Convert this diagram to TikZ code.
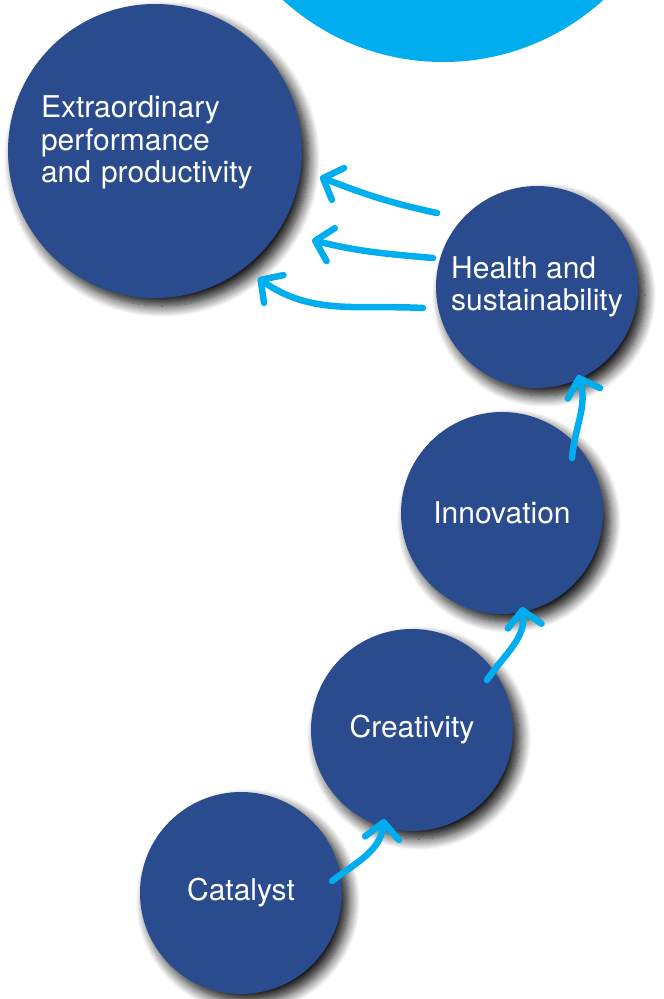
\documentclass[tikz,border=0pt]{standalone}
\usepackage{fontspec}
\setmainfont{TeX Gyre Heros}
\usetikzlibrary{calc,arrows.meta,shadows.blur}
\definecolor{stageblue}{HTML}{2A4B8D}
\definecolor{arrowblue}{HTML}{00AEEF}

\begin{document}
\begin{tikzpicture}[x=1pt, y=-1pt, font=\fontsize{30}{32.5}\selectfont,
        every node/.style={circle, fill=stageblue, text=white, inner sep=0pt, outer sep=0pt, minimum size=202pt, align=left,
            blur shadow={shadow xshift=7pt, shadow yshift=-8pt, shadow blur radius=11pt, shadow blur steps=12, shadow opacity=95}},
        flow/.style={draw=arrowblue, line width=6.5pt, line cap=round, -{Straight Barb[length=16pt, width=34pt, round]}}]
        \useasboundingbox (0,0) rectangle (664,999);
        \fill[arrowblue] (443,-176) circle[radius=238pt];

        \node (S1) at (241,893) {Catalyst};
        \node (S2) at (412,730) {Creativity};
        \node (S3) at (502,513) {Innovation};
        \node (S4) at (537,287) {Health and\\sustainability};
        \node[minimum size=294pt, text width=228pt, text depth=88pt] (S5) at (155,151) {Extraordinary\\performance\\and productivity};

        \draw[flow] ($(S1)+(91,-12)$) to[out=37, in=264] ($(S2)+(-28,89)$);
        \draw[flow] ($(S2)+(75,-50)$) to[out=56, in=278] ($(S3)+(20,94)$);
        \draw[flow] ($(S3)+(70,-55)$) to[out=85, in=288] ($(S4)+(41,88)$);
        \draw[flow] ($(S4)+(-100,-74)$) to[out=168, in=339] ($(S5)+(165,26)$);
        \draw[flow] ($(S4)+(-104,-29)$) to[out=175, in=346] ($(S5)+(157,89)$);
        \draw[flow] ($(S4)+(-114,21)$) to[out=177, in=325] ($(S5)+(103,127)$);
    \end{tikzpicture}
\end{document}
